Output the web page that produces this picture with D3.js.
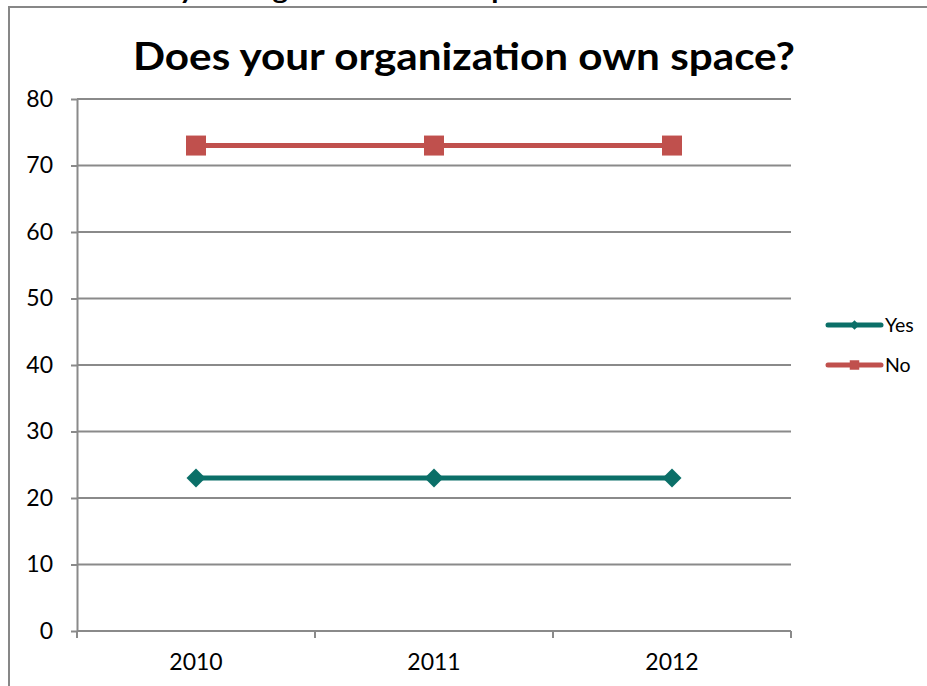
<!DOCTYPE html>
<html>
<head>
<meta charset="utf-8">
<script src="https://cdn.jsdelivr.net/npm/d3@7"></script>
<style>
  html, body { margin: 0; padding: 0; background: #fff; }
  svg { display: block; font-family: Lato, "Open Sans", sans-serif; }
</style>
</head>
<body>
<svg id="chart" width="927" height="686"></svg>
<script>
// Survey results by year
const years = ["2010", "2011", "2012"];
const yesValues = [23, 23, 23];
const noValues = [73, 73, 73];
const yTicks = [0, 10, 20, 30, 40, 50, 60, 70, 80];
const seriesNames = ["Yes", "No"];
const seriesColors = ["#0b6f68", "#c0504d"];
const titleText = "Does your organization own space?";

const svg = d3.select("#chart");
const W = 927, H = 686;
const plot = { left: 77, right: 791, top: 99, bottom: 631 };

// heading of the page above the chart frame (only its lower part shows)
svg.append("text")
  .attr("x", 105).attr("y", -1)
  .attr("font-size", 25).attr("font-weight", "bold")
  .attr("fill", "#000")
  .attr("textLength", 460).attr("lengthAdjust", "spacingAndGlyphs")
  .text(titleText);

// chart frame
svg.append("path")
  .attr("d", `M${9},${H + 2} L${9},${7} L${W + 2},${7}`)
  .attr("fill", "none").attr("stroke", "#878787").attr("stroke-width", 2);

const x = d3.scaleBand().domain(years).range([plot.left, plot.right]);
const y = d3.scaleLinear().domain([0, 80]).range([plot.bottom, plot.top]);

// horizontal gridlines
svg.append("g").selectAll("line").data(yTicks.filter(d => d > 0)).join("line")
  .attr("x1", plot.left).attr("x2", plot.right)
  .attr("y1", d => y(d)).attr("y2", d => y(d))
  .attr("stroke", "#8a8a8a").attr("stroke-width", 2);

// y axis
const yAxis = svg.append("g").attr("transform", `translate(${plot.left},0)`)
  .call(d3.axisLeft(y).tickValues(yTicks).tickSize(6).tickSizeOuter(0).tickPadding(18));
yAxis.select(".domain").attr("stroke", "#8a8a8a").attr("stroke-width", 2);
yAxis.selectAll(".tick line").attr("stroke", "#8a8a8a").attr("stroke-width", 2);
yAxis.selectAll(".tick text").attr("font-size", 23).attr("fill", "#000")
  .attr("font-family", "Lato, sans-serif");

// x axis
const xAxis = svg.append("g").attr("transform", `translate(0,${plot.bottom})`)
  .call(d3.axisBottom(x).tickSize(0).tickPadding(23));
xAxis.select(".domain").attr("stroke", "#8a8a8a").attr("stroke-width", 2)
  .attr("d", `M${plot.left},0H${plot.right}`);
xAxis.selectAll(".tick text").attr("font-size", 23).attr("fill", "#000")
  .attr("font-family", "Lato, sans-serif");
// category boundary ticks
const bounds = years.map(d => x(d)).concat([plot.right]);
svg.append("g").selectAll("line").data(bounds).join("line")
  .attr("x1", d => d).attr("x2", d => d)
  .attr("y1", plot.bottom).attr("y2", plot.bottom + 7)
  .attr("stroke", "#8a8a8a").attr("stroke-width", 2);

// title
svg.append("text")
  .attr("x", 464).attr("y", 70)
  .attr("text-anchor", "middle")
  .attr("font-size", 38).attr("font-weight", "bold").attr("fill", "#000")
  .attr("textLength", 662).attr("lengthAdjust", "spacingAndGlyphs")
  .text(titleText);

const cx = d => x(d) + x.bandwidth() / 2;
const series = [
  { name: seriesNames[0], values: yesValues, color: seriesColors[0], rotate: 45, size: 180, legendSize: 45 },
  { name: seriesNames[1], values: noValues, color: seriesColors[1], rotate: 0, size: 400, legendSize: 90 }
];

const line = d3.line().x((d, i) => cx(years[i])).y(d => y(d));

series.forEach(s => {
  svg.append("path")
    .attr("d", line(s.values))
    .attr("fill", "none").attr("stroke", s.color).attr("stroke-width", 5);
  svg.append("g").selectAll("path").data(s.values).join("path")
    .attr("transform", (d, i) => `translate(${cx(years[i])},${y(d)}) rotate(${s.rotate})`)
    .attr("d", d3.symbol().type(d3.symbolSquare).size(s.size))
    .attr("fill", s.color);
});

// legend
const legend = svg.append("g");
series.forEach((s, i) => {
  const ly = 325 + i * 40;
  legend.append("line")
    .attr("x1", 828).attr("x2", 881).attr("y1", ly).attr("y2", ly)
    .attr("stroke", s.color).attr("stroke-width", 5).attr("stroke-linecap", "round");
  legend.append("path")
    .attr("transform", `translate(854.5,${ly}) rotate(${s.rotate})`)
    .attr("d", d3.symbol().type(d3.symbolSquare).size(s.legendSize))
    .attr("fill", s.color);
  legend.append("text")
    .attr("x", 885).attr("y", ly).attr("dy", "0.35em")
    .attr("font-size", 19.5).attr("fill", "#000")
    .text(s.name);
});
</script>
</body>
</html>
